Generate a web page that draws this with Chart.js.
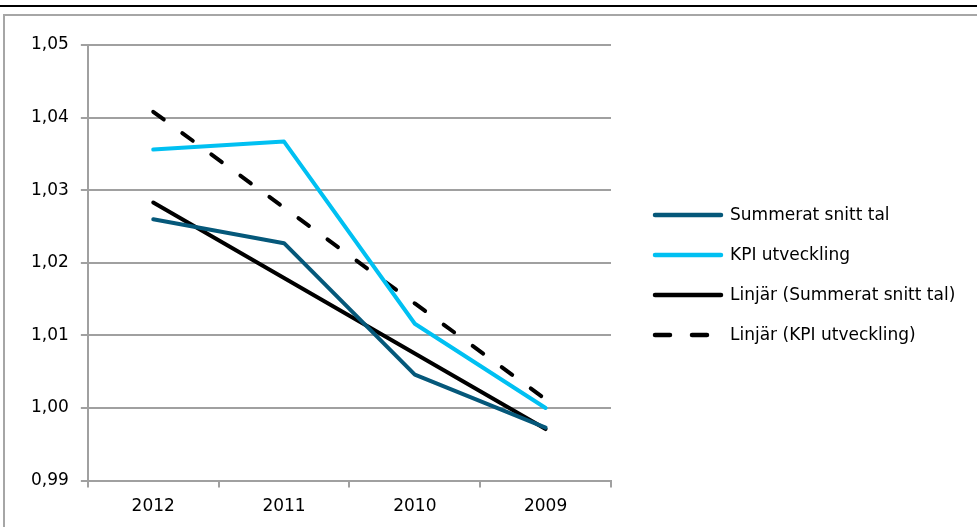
<!DOCTYPE html>
<html>
<head>
<meta charset="utf-8">
<script src="https://cdn.jsdelivr.net/npm/chart.js@4.4.1/dist/chart.umd.min.js"></script>
<style>
  html, body { margin: 0; padding: 0; background: #fff; }
  body { width: 977px; height: 527px; position: relative; overflow: hidden; }
  #rule { position: absolute; left: 0; top: 5px; width: 977px; height: 2px; background: #000; }
  #box { position: absolute; left: 3px; top: 14px; width: 980px; height: 520px;
         border-left: 2px solid #a6a6a6; border-top: 2px solid #a6a6a6; }
  #wrap { position: absolute; left: 5px; top: 16px; width: 972px; height: 511px; }
</style>
</head>
<body>
<div id="rule"></div>
<div id="box"></div>
<div id="wrap"><canvas id="grafChart"></canvas></div>
<script>
const ar = ["2012", "2011", "2010", "2009"];
const summerat = [1.0260, 1.0227, 1.0046, 0.9973];
const kpi = [1.0356, 1.0367, 1.0116, 1.0000];
const linjarSummerat = [1.0283, 1.0179, 1.0075, 0.9971];
const linjarKpi = [1.0408, 1.0276, 1.0144, 1.0012];
const yTicks = [0.99, 1.00, 1.01, 1.02, 1.03, 1.04, 1.05];

const ctx = document.getElementById("grafChart").getContext("2d");
const font = { family: "'DejaVu Sans', sans-serif", size: 17 };

function serie(label, data, color, dash, legendDash) {
  return {
    label: label,
    data: data,
    borderColor: color,
    backgroundColor: color,
    borderWidth: 4,
    borderDash: dash,
    legendDash: legendDash,
    borderCapStyle: "round",
    borderJoinStyle: "round",
    pointRadius: 0,
    pointHoverRadius: 0,
    tension: 0,
  };
}

// egen legend till höger om diagrammet
const legendPlugin = {
  id: "hogerLegend",
  afterDraw(chart) {
    const c = chart.ctx;
    const x0 = 650, x1 = 716, xText = 725, yStart = 199, steg = 40;
    c.save();
    chart.data.datasets.forEach((ds, i) => {
      const y = yStart + i * steg;
      c.beginPath();
      c.setLineDash(ds.legendDash || []);
      c.lineCap = "round";
      c.lineWidth = 4.5;
      c.strokeStyle = ds.borderColor;
      c.moveTo(x0, y);
      c.lineTo(x1, y);
      c.stroke();
      c.setLineDash([]);
      c.fillStyle = "#000";
      c.font = font.size + "px " + font.family;
      c.textBaseline = "middle";
      c.textAlign = "left";
      c.fillText(ds.label, xText, y + 1);
    });
    c.restore();
  },
};

new Chart(ctx, {
  type: "line",
  data: {
    labels: ar,
    datasets: [
      serie("Summerat snitt tal", summerat, "#05587a", [], []),
      serie("KPI utveckling", kpi, "#00c0f2", [], []),
      serie("Linjär (Summerat snitt tal)", linjarSummerat, "#000000", [], []),
      serie("Linjär (KPI utveckling)", linjarKpi, "#000000", [13, 23], [15, 22]),
    ],
  },
  options: {
    responsive: true,
    maintainAspectRatio: false,
    animation: false,
    layout: { padding: { top: 29, bottom: 1, left: 14, right: 366 } },
    scales: {
      x: {
        offset: true,
        grid: {
          offset: true,
          drawOnChartArea: false,
          drawTicks: true,
          tickLength: 7,
          color: "#a0a0a0",
          lineWidth: 2,
        },
        border: { color: "#a0a0a0", width: 2 },
        ticks: { color: "#000", font: font, padding: 9 },
      },
      y: {
        min: 0.99,
        max: 1.05,
        afterBuildTicks: (axis) => {
          axis.ticks = yTicks.map((v) => ({ value: v }));
        },
        grid: { color: "#a0a0a0", lineWidth: 2, tickLength: 7 },
        border: { color: "#a0a0a0", width: 2 },
        ticks: {
          color: "#000",
          font: font,
          padding: 12,
          callback: (v) => Number(v).toFixed(2).replace(".", ","),
        },
      },
    },
    plugins: {
      tooltip: { enabled: false },
      legend: { display: false },
    },
  },
  plugins: [legendPlugin],
});
</script>
</body>
</html>
